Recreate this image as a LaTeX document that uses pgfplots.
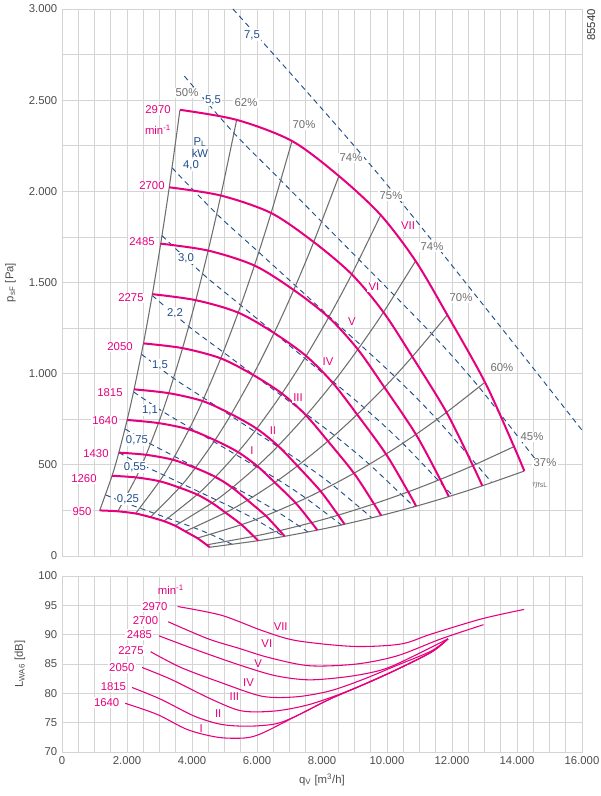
\documentclass[border=0pt]{standalone}
\usepackage{pgfplots}
\pgfplotsset{compat=1.18}
\usepackage{fontspec}
\setmainfont{Liberation Sans}
\definecolor{fpink}{HTML}{E6007E}
\definecolor{fgray}{HTML}{6E6E6E}
\definecolor{fblue}{HTML}{1F4E8C}
\definecolor{gridc}{HTML}{D4D4D4}
\newcommand\lb[4]{\node[#1] at (axis cs:#2,#3) {#4};}
\begin{document}
\begin{tikzpicture}[font=\fontsize{8.5}{10}\selectfont]
\path[use as bounding box] (-46.5pt,-33pt) rectangle (403.5pt,564pt);
\pgfplotsset{fanax/.style={scale only axis, width=390pt, xmin=0, xmax=16000,
  scaled x ticks=false, scaled y ticks=false,
  /pgf/number format/assume math mode=true,
  /pgf/number format/.cd,1000 sep={.},
  /pgfplots/.cd,
  xtick={0,2000,...,16000}, minor x tick num=3,
  grid=both, major grid style={gridc, line width=0.6pt}, minor grid style={gridc, line width=0.6pt},
  major tick length=0pt, minor tick length=0pt,
  axis line style={gridc, line width=0.6pt},
  tick label style={text=black!70, font=\fontsize{8.5}{10}\selectfont},
  label style={text=black!70, font=\fontsize{8.5}{10}\selectfont},
  clip=false}}
\tikzset{bl/.style={text=fblue, fill=white, inner sep=1pt}, pk/.style={text=fpink, fill=white, inner sep=1pt},
  pkn/.style={text=fpink, inner sep=1pt}, gy/.style={text=fgray, fill=white, inner sep=1pt}}
% ---------------- top axis
\begin{axis}[fanax, at={(0,147pt)}, anchor=south west, height=410.25pt,
  ymin=0, ymax=3000, ytick={0,500,...,3000}, minor y tick num=1,
  xticklabels={}, ylabel={p\textsubscript{sF} [Pa]}, ylabel style={yshift=3pt}]
\pgfplotsset{pw/.style={fblue, line width=0.7pt, dash pattern=on 4pt off 3pt, smooth}}
\addplot[pw] coordinates {(1344,335)(1889,295)(2403,262)(3263,207)(4062,155)(4579,118)(5248,63)};
\addplot[pw] coordinates {(1748,567)(2457,500)(3125,444)(4243,350)(5282,262)(5955,200)(6825,107)};
\addplot[pw] coordinates {(1938,697)(2724,615)(3465,546)(4705,431)(5858,323)(6605,245)(7569,132)};
\addplot[pw] coordinates {(2202,900)(3095,793)(3937,704)(5346,556)(6655,417)(7504,317)(8600,170)};
\addplot[pw] coordinates {(2442,1107)(3432,975)(4366,866)(5928,683)(7380,512)(8321,390)(9536,209)};
\addplot[pw] coordinates {(2774,1429)(3900,1259)(4961,1118)(6735,882)(8385,661)(9454,503)(10834,270)};
\addplot[pw] coordinates {(3076,1757)(4324,1548)(5501,1375)(7469,1085)(9298,813)(10483,618)(12014,332)};
\addplot[pw] coordinates {(3386,2129)(4760,1876)(6054,1666)(8221,1314)(10234,985)(11539,749)(13224,403)};
\addplot[pw] coordinates {(3765,2632)(5293,2319)(6733,2060)(9142,1625)(11380,1218)(12831,926)(14705,498)};
\addplot[pw] coordinates {(5260,3000)(9877,2063)(16000,690)};
\pgfplotsset{ef/.style={fgray, line width=0.8pt, smooth}}
\addplot[ef] coordinates {(1161,250)(1540,440)(1748,567)(2004,746)(2218,914)(2506,1166)(2781,1436)(3037,1713)(3300,2022)(3630,2447)};
\addplot[ef] coordinates {(1719,245)(2280,431)(2588,555)(2968,729)(3285,893)(3710,1140)(4117,1403)(4497,1675)(4886,1977)(5375,2392)};
\addplot[ef] coordinates {(2264,233)(3002,410)(3407,528)(3908,694)(4325,850)(4885,1084)(5421,1335)(5921,1593)(6434,1881)(7077,2276)};
\addplot[ef] coordinates {(2725,213)(3615,375)(4102,483)(4705,635)(5207,778)(5881,993)(6526,1223)(7129,1459)(7745,1722)(8520,2084)};
\addplot[ef] coordinates {(3137,191)(4160,337)(4721,434)(5415,570)(5993,698)(6768,891)(7511,1097)(8205,1309)(8915,1545)(9806,1870)};
\addplot[ef] coordinates {(3480,166)(4616,291)(5239,375)(6008,493)(6649,604)(7510,771)(8334,949)(9103,1133)(9891,1337)(10880,1618)};
\addplot[ef] coordinates {(3792,135)(5030,238)(5708,306)(6547,403)(7245,494)(8183,630)(9082,776)(9920,925)(10778,1093)(11856,1322)};
\addplot[ef] coordinates {(4163,98)(5522,172)(6266,221)(7187,291)(7954,356)(8984,454)(9969,559)(10890,667)(11832,788)(13015,953)};
\addplot[ef] coordinates {(4449,61)(5900,108)(6696,139)(7680,183)(8499,224)(9600,286)(10653,352)(11637,420)(12644,496)(13908,600)};
\addplot[ef] coordinates {(4550,48)(6035,84)(6849,108)(7855,142)(8693,174)(9819,222)(10896,273)(11902,326)(12932,385)(14225,466)};
\pgfplotsset{sp/.style={fpink, line width=1.5pt, smooth}}
\addplot[sp] coordinates {(3630,2447)(5375,2392)(7077,2276)(8520,2084)(9806,1870)(10880,1618)(11856,1322)(13015,953)(13908,600)(14225,466)};
\addplot[sp] coordinates {(3300,2022)(4886,1977)(6434,1881)(7745,1722)(8915,1545)(9891,1337)(10778,1093)(11832,788)(12644,496)(12932,385)};
\addplot[sp] coordinates {(3037,1713)(4497,1675)(5921,1593)(7129,1459)(8205,1309)(9103,1133)(9920,925)(10890,667)(11637,420)(11902,326)};
\addplot[sp] coordinates {(2781,1436)(4117,1403)(5421,1335)(6526,1223)(7511,1097)(8334,949)(9082,776)(9969,559)(10653,352)(10896,273)};
\addplot[sp] coordinates {(2506,1166)(3710,1140)(4885,1084)(5881,993)(6768,891)(7510,771)(8183,630)(8984,454)(9600,286)(9819,222)};
\addplot[sp] coordinates {(2218,914)(3285,893)(4325,850)(5207,778)(5993,698)(6649,604)(7245,494)(7954,356)(8499,224)(8693,174)};
\addplot[sp] coordinates {(2004,746)(2968,729)(3908,694)(4705,635)(5415,570)(6008,493)(6547,403)(7187,291)(7680,183)(7855,142)};
\addplot[sp] coordinates {(1748,567)(2588,555)(3407,528)(4102,483)(4721,434)(5239,375)(5708,306)(6266,221)(6696,139)(6849,108)};
\addplot[sp] coordinates {(1540,440)(2280,431)(3002,410)(3615,375)(4160,337)(4616,291)(5030,238)(5522,172)(5900,108)(6035,84)};
\addplot[sp] coordinates {(1161,250)(1719,245)(2264,233)(2725,213)(3137,191)(3480,166)(3792,135)(4163,98)(4449,61)(4550,48)};
% power labels
\lb{bl}{5846}{2858}{7,5}
\lb{bl}{4646}{2501}{5,5}
\lb{bl}{3969}{2144}{4,0}
\lb{bl}{3815}{1635}{3,0}
\lb{bl}{3477}{1333}{2,2}
\lb{bl}{3015}{1048}{1,5}
\lb{bl}{2708}{801}{1,1}
\lb{bl}{2308}{636}{0,75}
\lb{bl}{2246}{488}{0,55}
\lb{bl}{2031}{313}{0,25}
\node[text=fblue, align=center, font=\fontsize{8.5}{9.5}\selectfont] at (axis cs:4246,2240) {P\textsubscript{L}\\kW};
% speed labels
\lb{pk}{2954}{2446}{2970}
\lb{pk}{2769}{2029}{2700}
\lb{pk}{2462}{1722}{2485}
\lb{pk}{2123}{1415}{2275}
\lb{pk}{1785}{1146}{2050}
\lb{pk}{1477}{894}{1815}
\lb{pk}{1323}{740}{1640}
\lb{pk}{1046}{559}{1430}
\lb{pk}{677}{422}{1260}
\lb{pk}{615}{241}{950}
\lb{pkn}{2954}{2337}{min\textsuperscript{-1}}
\lb{pk}{5846}{576}{I}
\lb{pk}{6492}{686}{II}
\lb{pk}{7262}{867}{III}
\lb{pk}{8185}{1064}{IV}
\lb{pk}{8923}{1283}{V}
\lb{pk}{9600}{1475}{VI}
\lb{pk}{10646}{1810}{VII}
% efficiency labels
\lb{gy}{3846}{2540}{50\%}
\lb{gy}{5662}{2485}{62\%}
\lb{gy}{7446}{2364}{70\%}
\lb{gy}{8892}{2183}{74\%}
\lb{gy}{10123}{1975}{75\%}
\lb{gy}{11385}{1695}{74\%}
\lb{gy}{12277}{1415}{70\%}
\lb{gy}{13538}{1031}{60\%}
\lb{gy}{14462}{653}{45\%}
\lb{gy}{14862}{510}{37\%}
\node[text=fgray, font=\fontsize{7.5}{9}\selectfont] at (axis cs:14708,389) {$\eta$\textsubscript{fsL}};
\node[rotate=90, text=black!80, yshift=-7pt] at (axis cs:16000,2912) {85540};
\end{axis}
% ---------------- bottom axis
\begin{axis}[fanax, at={(0,0)}, anchor=south west, height=132pt,
  ymin=70, ymax=100, ytick={70,75,...,100},
  xlabel={q\textsubscript{V} [m\textsuperscript{3}/h]}, ylabel={L\textsubscript{WA6} [dB]}, ylabel style={yshift=3pt}]
\pgfplotsset{sb/.style={fpink, line width=0.8pt, smooth}}
\addplot[sb] coordinates {(3557,94.8)(4909,93.3)(6157,90.7)(7197,89.0)(8965,88.0)(10421,88.4)(11357,90.1)(12917,92.7)(14217,94.3)};
\addplot[sb] coordinates {(3266,92.2)(4493,89.3)(5429,87.7)(6365,86.1)(7613,84.7)(9069,85.0)(10317,86.4)(11669,89.3)(12969,91.7)};
\addplot[sb] coordinates {(2985,89.8)(4285,87.1)(5533,84.7)(6573,83.0)(7613,82.3)(8861,82.9)(9901,84.1)(10837,86.4)(11877,89.3)};
\addplot[sb] coordinates {(2725,87.1)(3661,84.4)(4909,81.8)(6157,79.5)(7197,79.4)(8237,80.4)(9277,82.4)(10317,84.8)(11357,87.2)(11877,89.3)};
\addplot[sb] coordinates {(2465,84.4)(3349,82.4)(4597,79.0)(5533,77.0)(6573,77.0)(7613,78.1)(8757,80.3)(9901,83.0)(11357,87.0)(11877,89.3)};
\addplot[sb] coordinates {(2153,81.0)(3037,79.0)(4077,76.1)(4909,74.7)(5741,74.4)(6573,74.8)(7197,76.1)(8237,79.0)(9277,81.5)(10317,84.1)(11357,87.0)(11877,89.3)};
\addplot[sb] coordinates {(1945,78.3)(2933,76.4)(3869,73.8)(4805,72.5)(5637,72.4)(6157,73.2)(7197,76.1)(8237,79.0)(9277,81.5)(10317,84.1)(11357,87.0)(11877,89.3)};
\lb{pk}{2860}{94.8}{2970}
\lb{pk}{2569}{92.4}{2700}
\lb{pk}{2382}{90.0}{2485}
\lb{pk}{2122}{87.3}{2275}
\lb{pk}{1841}{84.4}{2050}
\lb{pk}{1581}{81.2}{1815}
\lb{pk}{1373}{78.4}{1640}
\lb{pkn}{3350}{97.6}{min\textsuperscript{-1}}
\lb{pkn}{6729}{91.4}{VII}
\lb{pkn}{6302}{88.4}{VI}
\lb{pkn}{6032}{85.1}{V}
\lb{pkn}{5741}{81.9}{IV}
\lb{pkn}{5304}{79.4}{III}
\lb{pkn}{4805}{76.5}{II}
\lb{pkn}{4285}{74.0}{I}
\end{axis}
\end{tikzpicture}
\end{document}
